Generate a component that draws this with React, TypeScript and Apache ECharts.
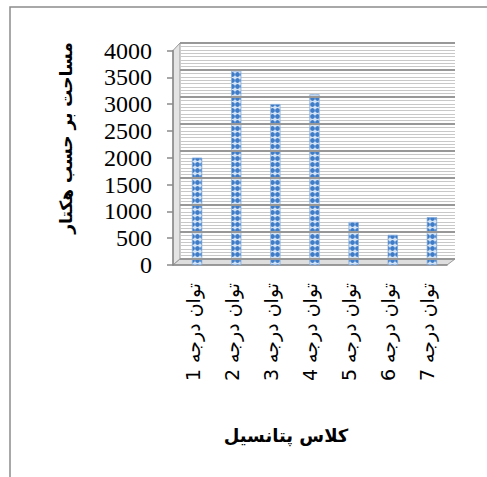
import React, { useEffect, useRef } from "react";
import * as echarts from "echarts";

const categories = [
  "توان درجه 1",
  "توان درجه 2",
  "توان درجه 3",
  "توان درجه 4",
  "توان درجه 5",
  "توان درجه 6",
  "توان درجه 7",
];
const areaValues = [2000, 3620, 3000, 3180, 800, 560, 890];
const spacerValues = categories.map(() => null);
const yTicks = { min: 0, max: 4000, interval: 500 };
const stripeInterval = 62.5;
const yAxisTitle = "مساحت بر حسب هکتار";
const xAxisTitle = "کلاس پتانسیل";

const FRONT = { left: 173, top: 50.5, width: 274, height: 214.5 };
const BACK = { left: 180, top: 43, width: 275, height: 216 };

export default function App() {
  const ref = useRef<HTMLDivElement>(null);
  useEffect(() => {
    if (!ref.current) return;
    const chart = echarts.init(ref.current, null, { renderer: "svg" });
    const fb = FRONT.top + FRONT.height;
    const bb = BACK.top + BACK.height;
    const option: any = {
      animation: false,
      backgroundColor: "#ffffff",
      grid: [
        { ...FRONT, containLabel: false, show: false },
        { ...BACK, containLabel: false, show: false },
      ],
      xAxis: [
        {
          gridIndex: 0,
          type: "category",
          data: categories,
          axisLine: { show: true, lineStyle: { color: "#8a8a8a", width: 1.5 } },
          axisTick: { show: false },
          axisLabel: {
            rotate: 90,
            margin: 18,
            fontSize: 19,
            fontFamily: "DejaVu Sans",
            color: "#000",
            interval: 0,
          },
          splitLine: { show: false },
          splitArea: { show: false },
        },
        {
          gridIndex: 1,
          type: "value",
          min: 0,
          max: 1,
          show: false,
          splitLine: { show: false },
        },
      ],
      yAxis: [
        {
          gridIndex: 0,
          type: "value",
          ...yTicks,
          axisLine: { show: true, lineStyle: { color: "#8a8a8a", width: 1.5 } },
          axisTick: { show: true, inside: false, length: 6, lineStyle: { color: "#8a8a8a", width: 1.5 } },
          axisLabel: {
            margin: 21,
            fontSize: 24,
            fontFamily: "Liberation Serif",
            color: "#000",
            formatter: (v: number) => String(v),
          },
          splitLine: { show: false },
        },
        {
          gridIndex: 1,
          type: "value",
          position: "left",
          ...yTicks,
          z: 3,
          axisLine: { show: false },
          axisTick: { show: false },
          axisLabel: { show: false },
          splitLine: { show: true, lineStyle: { color: "#989898", width: 2 } },
        },
        {
          gridIndex: 1,
          type: "value",
          position: "right",
          min: yTicks.min,
          max: yTicks.max,
          interval: stripeInterval,
          z: 1,
          axisLine: { show: false },
          axisTick: { show: false },
          axisLabel: { show: false },
          splitLine: { show: true, lineStyle: { color: "#c8c8c8", width: 1 } },
        },
      ],
      graphic: [
        {
          type: "rect",
          shape: { x: 10, y: 7, width: 600, height: 600 },
          style: { fill: "none", stroke: "#8c8c8c", lineWidth: 1.5 },
          z: -20,
        },
        {
          type: "polygon",
          shape: {
            points: [
              [FRONT.left, FRONT.top],
              [BACK.left, BACK.top],
              [BACK.left, bb],
              [FRONT.left, fb],
            ],
          },
          style: { fill: "#e4e4e4", stroke: "#9a9a9a", lineWidth: 1 },
          z: -10,
        },
        {
          type: "polygon",
          shape: {
            points: [
              [FRONT.left, fb],
              [BACK.left, bb],
              [BACK.left + BACK.width, bb],
              [FRONT.left + FRONT.width, fb],
            ],
          },
          style: { fill: "#dedede", stroke: "#9a9a9a", lineWidth: 1 },
          z: -10,
        },
        {
          type: "text",
          x: 66,
          y: 138,
          rotation: Math.PI / 2,
          style: {
            text: yAxisTitle,
            align: "center",
            verticalAlign: "middle",
            fontSize: 17,
            fontWeight: "bold",
            fontFamily: "DejaVu Sans",
            fill: "#000",
          },
        },
        {
          type: "text",
          x: 286,
          y: 435,
          style: {
            text: xAxisTitle,
            align: "center",
            verticalAlign: "middle",
            fontSize: 18,
            fontWeight: "bold",
            fontFamily: "DejaVu Sans",
            fill: "#000",
          },
        },
      ],
      series: [
        {
          type: "bar",
          xAxisIndex: 0,
          yAxisIndex: 0,
          data: spacerValues,
          barWidth: 10,
          barGap: "-10%",
          silent: true,
          itemStyle: { color: "transparent" },
        },
        {
          type: "bar",
          xAxisIndex: 0,
          yAxisIndex: 0,
          data: areaValues,
          barWidth: 10,
          barGap: "-10%",
          itemStyle: {
            color: "#d3e3f6",
            borderColor: "#8fb3df",
            borderWidth: 0.5,
            decal: {
              symbol: "circle",
              symbolSize: 0.95,
              color: "#3f7cc8",
              dashArrayX: [5, 0],
              dashArrayY: [5, 1],
            },
          },
        },
      ],
    };
    chart.setOption(option);
    return () => chart.dispose();
  }, []);
  return <div ref={ref} style={{ width: 487, height: 477, position: "absolute", left: 0, top: 0 }} />;
}
